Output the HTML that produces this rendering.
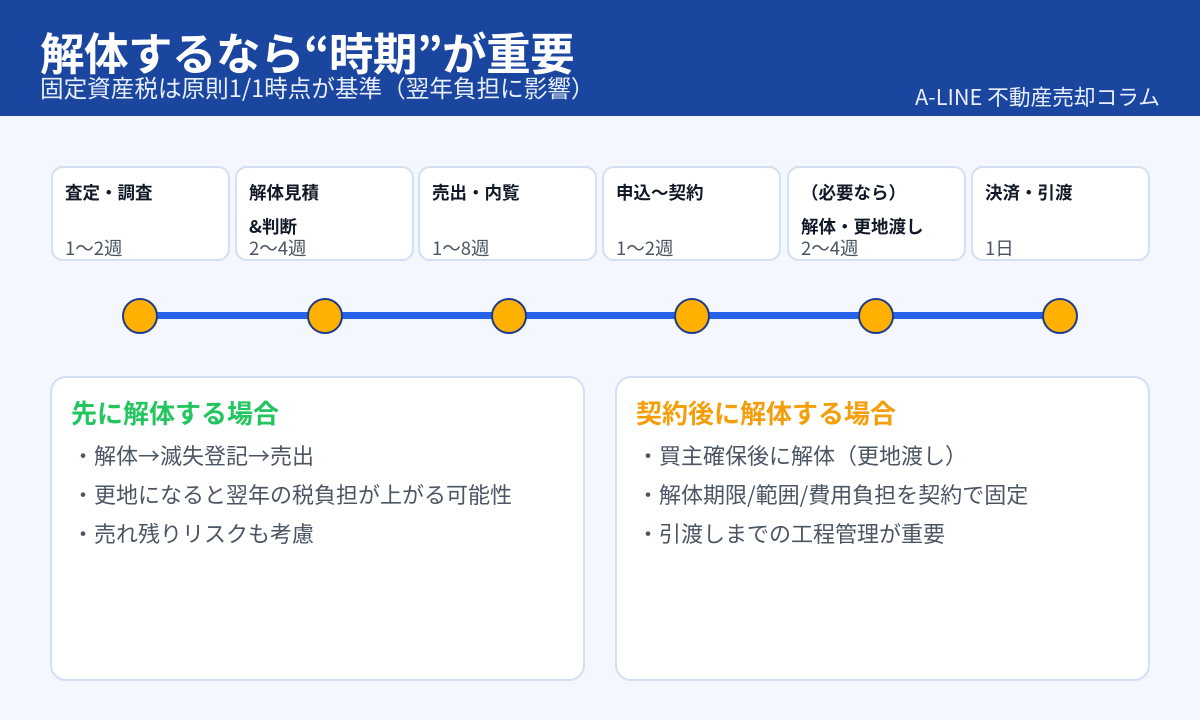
<!DOCTYPE html>
<html><head><meta charset="utf-8"><style>
*{margin:0;padding:0;box-sizing:border-box}
body{width:1200px;height:720px;background:#f4f7fd;font-family:"Noto Sans CJK JP","Liberation Sans",sans-serif;position:relative;overflow:hidden}
.hdr{position:absolute;left:0;top:0;width:1200px;height:116px;background:#1a46a0;color:#fff}
.t{position:absolute;left:40px;top:29px;font-size:44.5px;font-weight:bold;line-height:1;letter-spacing:-0.5px}
.s{position:absolute;left:40px;top:76px;font-size:23.6px;line-height:1;color:#e8eefc}
.r{position:absolute;right:40px;top:86px;font-size:21.7px;line-height:1;color:#e8eefc}
.box{position:absolute;top:166px;width:179px;height:95px;background:#fff;border:2px solid #d3dff2;border-radius:12px}
.box b{position:absolute;left:12px;top:8px;font-size:17.5px;line-height:34px;color:#111827}
.box span{position:absolute;left:12px;top:71px;font-size:18.5px;line-height:1;color:#4b5563}
.line{position:absolute;left:140px;top:312px;width:920px;height:7px;background:#2563eb}
.dot{position:absolute;top:298px;width:36px;height:36px;border-radius:50%;background:#ffb000;border:2.5px solid #1e3a8a}
.p{position:absolute;top:376px;width:535px;height:305px;background:#fff;border:2px solid #d3dff2;border-radius:16px}
.p h3{position:absolute;left:19px;top:18px;font-size:26px;line-height:34px;font-weight:bold}
.p ul{position:absolute;left:20px;top:58px;list-style:none;font-size:22px;line-height:39px;color:#4b5563}
</style></head><body>
<div class="hdr">
<div class="t">解体するなら“時期”が重要</div>
<div class="s">固定資産税は原則1/1時点が基準（翌年負担に影響）</div>
<div class="r">A-LINE 不動産売却コラム</div>
</div>
<div class="box" style="left:51px"><b>査定・調査</b><span>1〜2週</span></div>
<div class="box" style="left:235px"><b>解体見積<br>&amp;判断</b><span>2〜4週</span></div>
<div class="box" style="left:418px"><b>売出・内覧</b><span>1〜8週</span></div>
<div class="box" style="left:602px"><b>申込〜契約</b><span>1〜2週</span></div>
<div class="box" style="left:787px"><b>（必要なら）<br>解体・更地渡し</b><span>2〜4週</span></div>
<div class="box" style="left:971px"><b>決済・引渡</b><span>1日</span></div>
<div class="line"></div>
<div class="dot" style="left:122px"></div>
<div class="dot" style="left:307px"></div>
<div class="dot" style="left:491px"></div>
<div class="dot" style="left:674px"></div>
<div class="dot" style="left:858px"></div>
<div class="dot" style="left:1042px"></div>
<div class="p" style="left:50px"><h3 style="color:#22c55e">先に解体する場合</h3>
<ul><li>・解体→滅失登記→売出</li><li>・更地になると翌年の税負担が上がる可能性</li><li>・売れ残りリスクも考慮</li></ul></div>
<div class="p" style="left:615px"><h3 style="color:#f59e0b">契約後に解体する場合</h3>
<ul><li>・買主確保後に解体（更地渡し）</li><li>・解体期限/範囲/費用負担を契約で固定</li><li>・引渡しまでの工程管理が重要</li></ul></div>
</body></html>
